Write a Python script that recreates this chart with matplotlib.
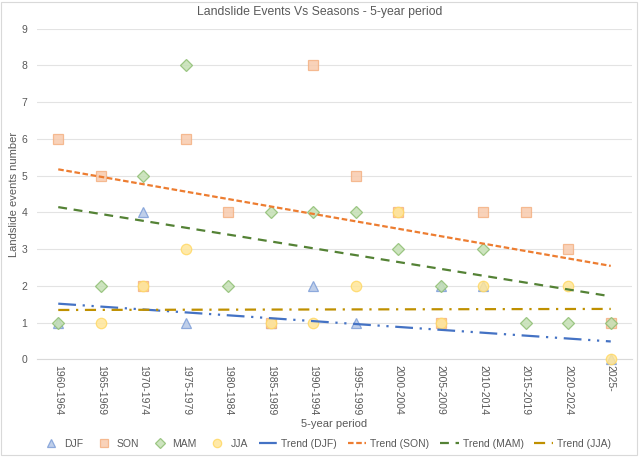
import numpy as np
import matplotlib
matplotlib.use("Agg")
import matplotlib.pyplot as plt
from matplotlib.patches import Rectangle

plt.rcParams['font.family'] = ['Liberation Sans', 'DejaVu Sans']

periods = ["1960-1964", "1965-1969", "1970-1974", "1975-1979", "1980-1984",
           "1985-1989", "1990-1994", "1995-1999", "2000-2004", "2005-2009",
           "2010-2014", "2015-2019", "2020-2024", "2025-"]
djf = [1, None, 4, 1, None, 1, 2, 1, None, 2, 2, None, None, 0]
son = [6, 5, 2, 6, 4, 1, 8, 5, 4, 1, 4, 4, 3, 1]
mam = [1, 2, 5, 8, 2, 4, 4, 4, 3, 2, 3, 1, 1, 1]
jja = [None, 1, 2, 3, None, 1, 1, 2, 4, 1, 2, None, 2, 0]
yticks = list(range(0, 10))

series = [
    ("DJF", djf, "^", "#b4c7e7", "#7f9fd8", 7.5),
    ("SON", son, "s", "#f8cbad", "#f4b183", 7.5),
    ("MAM", mam, "D", "#c5e0b4", "#8fbf73", 6.0),
    ("JJA", jja, "o", "#ffe699", "#ffd966", 7.5),
]
trends = [
    ("Trend (DJF)", djf, "#4472c4", (0, (8, 3, 1, 3, 1, 3))),
    ("Trend (SON)", son, "#ed7d31", (0, (2.5, 1.2))),
    ("Trend (MAM)", mam, "#548235", (0, (4, 3))),
    ("Trend (JJA)", jja, "#bf9000", (0, (5, 3, 1, 3))),
]

fig = plt.figure(figsize=(6.4, 4.57), dpi=100)
ax = fig.add_axes([37/640, 1-359.3/457, 595/640, (359.3-28.7)/457])

x = np.arange(1, len(periods) + 1)
handles = []
for name, vals, mk, fc, ec, ms in series:
    v = np.array([np.nan if a is None else a for a in vals], dtype=float)
    h, = ax.plot(x, v, linestyle="none", marker=mk, markersize=ms,
                 markerfacecolor=fc, markeredgecolor=ec, markeredgewidth=0.9,
                 alpha=0.85, label=name, zorder=3, clip_on=False)
    handles.append(h)

for name, vals, col, ls in trends:
    v = np.array([0 if a is None else a for a in vals], dtype=float)
    coef = np.polyfit(x, v, 1)
    yfit = np.polyval(coef, x)
    h, = ax.plot(x, yfit, color=col, linestyle=ls, linewidth=1.6,
                 label=name, zorder=4)
    handles.append(h)

ax.set_xlim(0.5, len(periods) + 0.5)
ax.set_ylim(0, 9)
ax.set_yticks(yticks)
ax.set_xticks(x)
ax.set_xticklabels(periods, rotation=-90, fontsize=7.5, color="#595959")
ax.tick_params(axis='y', labelsize=7.5, colors="#595959", length=0, pad=7)
ax.tick_params(axis='x', length=0, pad=4)
ax.grid(axis='y', color="#e3e3e3", linewidth=0.8)
ax.set_axisbelow(True)
for s in ["top", "right", "left"]:
    ax.spines[s].set_visible(False)
ax.spines["bottom"].set_color("#d9d9d9")
ax.spines["bottom"].set_linewidth(0.8)

fig.text(0.5, 1-12/457, "Landslide Events Vs Seasons - 5-year period",
         fontsize=8.8, color="#595959", ha="center", va="center")
ax.set_xlabel("5-year period", fontsize=8, color="#595959", labelpad=3)
fig.text(14/640, 1-194/457, "Landslide events number", rotation=90,
         fontsize=8, color="#595959", ha="center", va="center")

fig.legend(handles=handles, loc="center", bbox_to_anchor=(0.51, 1-444/457),
           ncol=8, frameon=False, fontsize=7.5, handlelength=1.8,
           handletextpad=0.35, columnspacing=1.05, labelcolor="#595959",
           markerscale=0.8)

fig.patches.append(Rectangle((0.002, 0.004), 0.994, 0.992, transform=fig.transFigure,
                             fill=False, edgecolor="#d9d9d9", linewidth=0.8))

fig.savefig("out.png", dpi=100)
